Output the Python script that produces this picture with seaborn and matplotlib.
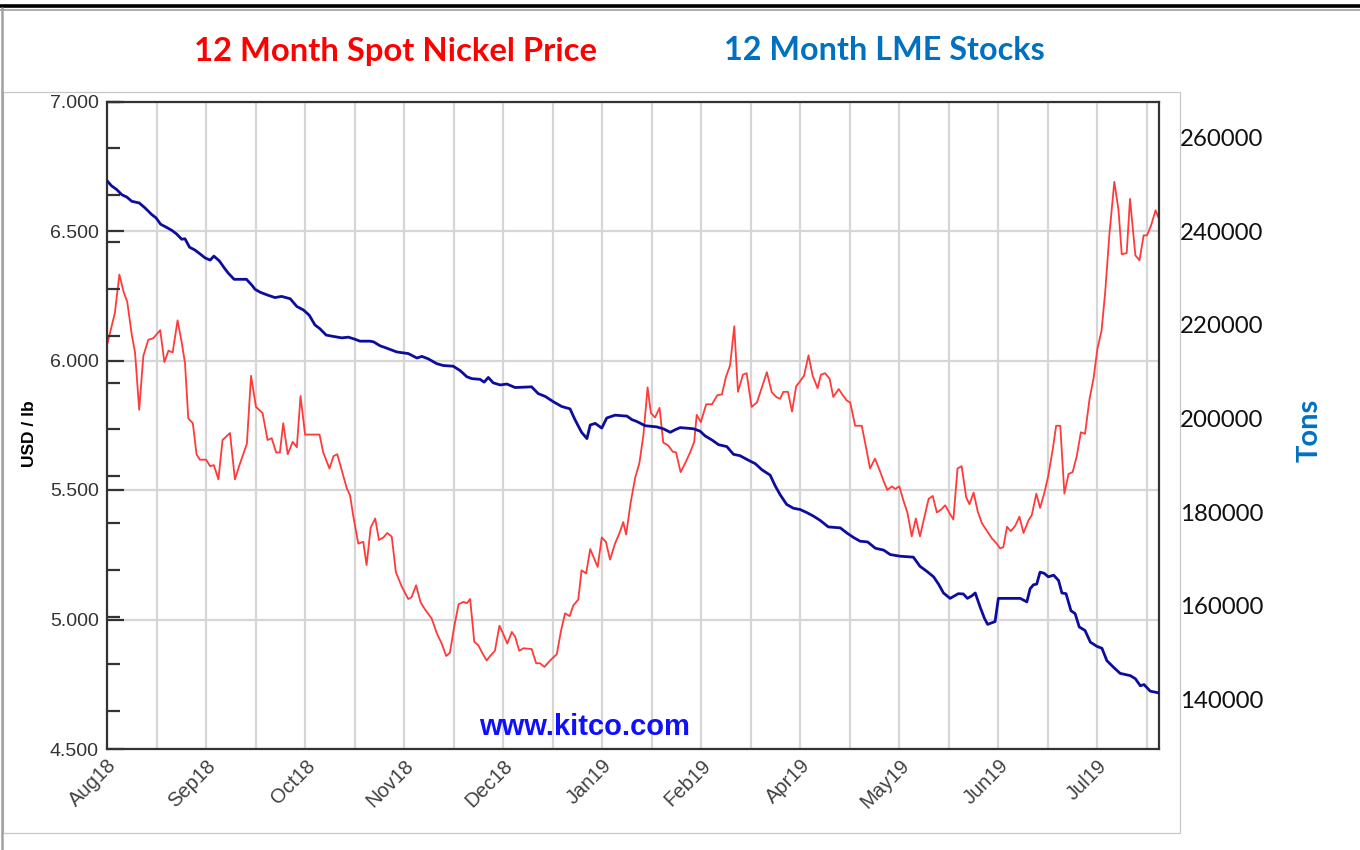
import numpy as np
import pandas as pd
import matplotlib
matplotlib.use("Agg")
import matplotlib.pyplot as plt
import matplotlib.transforms as mtransforms
from matplotlib.lines import Line2D
from matplotlib.patches import Rectangle
from matplotlib.ticker import MultipleLocator, FixedLocator, FuncFormatter
import seaborn as sns

# ---------------- data (trading-day index) ----------------
price_day = [0.1, 1.9, 3.0, 4.0, 4.9, 6.0, 6.8, 7.8, 8.8, 10.0, 11.2, 12.9, 13.9, 14.9, 15.9,
             17.1, 18.1, 18.9, 19.7, 20.8, 21.7, 22.5, 24.0, 25.0, 25.9, 27.0, 28.0, 29.8,
             31.0, 32.1, 33.9, 34.9, 36.1, 37.7, 38.9, 39.9, 41.0, 41.9, 42.7, 43.8, 45.0,
             46.0, 46.9, 48.0, 50.0, 51.5, 52.4, 53.9, 54.9, 55.8, 56.9, 58.1, 58.9, 59.7,
             60.9, 62.1, 62.9, 63.9, 65.0, 65.9, 67.0, 67.9, 69.0, 70.0, 71.4, 73.0, 73.8,
             74.9, 76.0, 77.1, 78.7, 79.9, 81.1, 82.2, 83.1, 84.1, 85.2, 86.4, 87.2, 88.0,
             89.0, 90.0, 91.1, 92.0, 93.0, 94.0, 95.1, 96.1, 97.0, 98.1, 98.9, 99.9, 100.9,
             102.9, 104.0, 104.9, 106.0, 107.4, 109.0, 110.0, 111.0, 112.1, 113.0, 114.2,
             115.0, 116.1, 117.1, 118.0, 118.9, 119.9, 120.9, 121.9, 123.1, 124.2, 125.1,
             125.8, 126.9, 128.0, 129.0, 130.0, 131.0, 131.8, 132.8, 133.9, 134.8, 136.0,
             137.1, 137.9, 139.0, 140.1, 141.3, 142.3, 142.9, 143.9, 145.2, 146.6, 147.9,
             149.0, 150.0, 151.0, 152.0, 152.9, 154.1, 155.0, 156.2, 157.5, 158.7, 159.9,
             161.1, 162.2, 163.1, 163.9, 165.0, 166.0, 167.0, 168.0, 168.9, 170.0, 171.0,
             172.2, 173.0, 174.0, 175.1, 176.0, 177.3, 178.3, 179.3, 180.1, 181.3, 182.9,
             184.0, 184.9, 186.1, 187.4, 188.2, 189.1, 190.2, 191.0, 192.0, 193.0, 194.0,
             195.0, 196.0, 197.0, 198.1, 199.1, 200.1, 201.1, 202.1, 203.1, 204.2, 205.1,
             206.1, 207.1, 208.2, 209.0, 210.0, 211.0, 212.0, 213.0, 214.4, 215.6, 216.4,
             217.2, 218.1, 219.0, 220.1, 221.1, 222.1, 223.3, 224.1, 225.2, 226.1, 227.1,
             228.1, 229.2, 230.0, 231.0, 232.0, 233.0, 234.0, 235.0, 236.0, 237.0, 238.1,
             239.1, 240.0, 241.0, 241.9, 242.9, 244.1, 245.1, 245.9, 247.1, 247.9, 249.2,
             250.2, 251.2, 252.0, 253.0, 254.1, 254.9]
price_usd = [6.065, 6.183, 6.332, 6.266, 6.227, 6.100, 6.030, 5.810, 6.017, 6.080, 6.086, 6.117,
             5.994, 6.038, 6.031, 6.155, 6.070, 5.990, 5.776, 5.758, 5.638, 5.617, 5.617, 5.592,
             5.596, 5.541, 5.693, 5.720, 5.541, 5.596, 5.679, 5.941, 5.821, 5.797, 5.693, 5.700,
             5.645, 5.645, 5.758, 5.638, 5.686, 5.665, 5.863, 5.714, 5.714, 5.714, 5.645, 5.583,
             5.631, 5.638, 5.576, 5.507, 5.479, 5.397, 5.293, 5.300, 5.210, 5.355, 5.390, 5.307,
             5.317, 5.334, 5.320, 5.183, 5.128, 5.079, 5.086, 5.132, 5.066, 5.038, 5.003, 4.948,
             4.907, 4.859, 4.872, 4.969, 5.059, 5.068, 5.063, 5.079, 4.914, 4.900, 4.866, 4.842,
             4.862, 4.879, 4.976, 4.941, 4.907, 4.952, 4.934, 4.879, 4.889, 4.886, 4.831, 4.831,
             4.817, 4.842, 4.866, 4.955, 5.024, 5.013, 5.054, 5.077, 5.190, 5.178, 5.272, 5.238,
             5.203, 5.317, 5.300, 5.231, 5.293, 5.334, 5.376, 5.328, 5.452, 5.548, 5.603, 5.714,
             5.896, 5.797, 5.780, 5.817, 5.683, 5.672, 5.648, 5.645, 5.569, 5.603, 5.645, 5.686,
             5.790, 5.762, 5.831, 5.831, 5.866, 5.869, 5.937, 5.982, 6.132, 5.879, 5.945, 5.951,
             5.821, 5.838, 5.896, 5.955, 5.877, 5.859, 5.852, 5.879, 5.879, 5.803, 5.900, 5.921,
             5.941, 6.020, 5.941, 5.893, 5.945, 5.951, 5.930, 5.859, 5.890, 5.866, 5.845, 5.838,
             5.748, 5.748, 5.659, 5.583, 5.621, 5.569, 5.534, 5.500, 5.514, 5.504, 5.514, 5.459,
             5.410, 5.321, 5.390, 5.321, 5.397, 5.466, 5.477, 5.413, 5.424, 5.441, 5.410, 5.386,
             5.583, 5.592, 5.472, 5.445, 5.490, 5.417, 5.372, 5.348, 5.314, 5.293, 5.275, 5.279,
             5.358, 5.341, 5.362, 5.397, 5.334, 5.383, 5.403, 5.486, 5.431, 5.486, 5.555, 5.659,
             5.748, 5.748, 5.486, 5.562, 5.569, 5.631, 5.723, 5.717, 5.852, 5.934, 6.045, 6.114,
             6.266, 6.486, 6.690, 6.583, 6.410, 6.415, 6.624, 6.406, 6.387, 6.483, 6.483, 6.521,
             6.580, 6.548]

stock_day = [0.0, 1.1, 2.3, 3.6, 4.8, 6.0, 7.8, 9.2, 10.8, 11.9, 13.0, 14.5, 15.7, 16.9, 18.1,
             18.9, 20.0, 21.3, 22.5, 23.8, 25.0, 25.9, 27.2, 28.4, 29.4, 30.8, 33.8, 35.1,
             35.9, 37.1, 38.7, 40.7, 42.3, 44.4, 46.0, 47.6, 49.0, 50.4, 51.6, 53.1, 54.9,
             56.9, 58.5, 60.1, 61.3, 63.7, 64.6, 66.2, 67.8, 70.2, 73.0, 75.1, 76.3, 77.9,
             79.9, 81.5, 83.9, 85.6, 87.2, 88.4, 90.4, 91.4, 92.4, 93.6, 95.3, 96.9, 98.9,
             102.9, 104.5, 106.2, 108.2, 110.2, 112.2, 113.4, 115.0, 116.3, 117.1, 118.3,
             119.9, 121.1, 123.1, 126.0, 127.2, 128.4, 130.4, 133.2, 134.8, 136.5, 137.7,
             138.9, 142.1, 143.7, 144.9, 146.6, 148.2, 150.2, 151.8, 153.4, 155.4, 157.1,
             158.7, 160.7, 161.9, 163.1, 164.7, 166.3, 168.0, 169.6, 171.2, 172.8, 174.8,
             177.7, 179.3, 180.9, 182.5, 184.3, 186.2, 188.2, 189.8, 192.2, 195.4, 197.0,
             198.7, 200.3, 201.5, 202.7, 204.3, 206.3, 207.5, 208.5, 209.6, 210.4, 211.6,
             212.6, 213.4, 215.2, 216.0, 221.3, 222.9, 223.7, 224.5, 225.3, 226.1, 227.1,
             228.1, 229.4, 230.6, 231.4, 232.4, 233.6, 234.6, 235.6, 237.0, 238.3, 239.9,
             241.1, 242.3, 243.9, 245.5, 248.0, 249.2, 250.4, 251.3, 252.8, 255.0]
stock_tons = [253100, 252000, 251250, 250100, 249600, 248700, 248350, 247300, 245900, 245150,
              243800, 243100, 242500, 241700, 240600, 240700, 238900, 238300, 237500, 236600,
              236150, 237000, 236000, 234500, 233350, 232050, 232050, 230800, 229900, 229300,
              228750, 228150, 228400, 227900, 226250, 225500, 224400, 222300, 221500, 220150,
              219850, 219550, 219700, 219250, 218850, 218850, 218700, 217850, 217350, 216550,
              216200, 215250, 215600, 215050, 214050, 213650, 213500, 212550, 211250, 210850,
              210700, 210100, 211100, 209950, 209500, 209700, 208950, 209100, 207650, 207050,
              205900, 204900, 204400, 202100, 199400, 198050, 200950, 201300, 200300, 202450,
              203050, 202850, 202100, 201700, 200800, 200550, 200150, 199400, 199950, 200400,
              200150, 199650, 198650, 197750, 196750, 196350, 194700, 194400, 193450, 192700,
              191400, 190250, 188000, 186100, 184000, 183200, 182900, 182250, 181500, 180600,
              179200, 179000, 177900, 176950, 176150, 176000, 174650, 174250, 173300, 172950,
              172750, 170800, 169700, 168550, 167000, 165100, 163950, 164950, 164900, 163950,
              164500, 165100, 162050, 159750, 158400, 159000, 163950, 163950, 163200, 166000,
              166850, 167000, 169550, 169300, 168550, 168900, 167750, 165100, 164950, 161300,
              160700, 157850, 157100, 154600, 153700, 153300, 150650, 149250, 147950, 147450,
              146800, 145300, 145550, 144150, 143750]

month_labels = ["Aug18", "Sep18", "Oct18", "Nov18", "Dec18", "Jan19",
                "Feb19", "Apr19", "May19", "Jun19", "Jul19"]
price_ticks = [4.5, 5.0, 5.5, 6.0, 6.5, 7.0]
stock_ticks = [140000, 160000, 180000, 200000, 220000, 240000, 260000]

title_left = "12 Month Spot Nickel Price"
title_right = "12 Month LME Stocks"
left_label = "USD / lb"
right_label = "Tons"
watermark = "www.kitco.com"

# ---------------- styling ----------------
sns.set_theme(style="white")
plt.rcParams["font.family"] = ["Liberation Sans", "DejaVu Sans"]

W, H = 1360, 850
fig = plt.figure(figsize=(W / 100, H / 100), dpi=100)
fig.patch.set_facecolor("white")

def fx(px):
    return px / W

def fy(py):
    return 1 - py / H

# outer decorations
fig.add_artist(Line2D([0, 1], [fy(6), fy(6)], color="black", lw=2.6, transform=fig.transFigure))
fig.add_artist(Line2D([0, 1], [fy(9.5), fy(9.5)], color="#a0a0a0", lw=1.2, transform=fig.transFigure))
fig.add_artist(Line2D([fx(1.5), fx(1.5)], [fy(8), 0], color="#a0a0a0", lw=1.8, transform=fig.transFigure))
fig.add_artist(Rectangle((fx(3), fy(833)), fx(1180) - fx(3), fy(92) - fy(833), fill=False,
                         edgecolor="#c8c8c8", lw=0.9, transform=fig.transFigure))

L, R, T, B = 107, 1159.3, 101.5, 749
ax = fig.add_axes([fx(L), fy(B), fx(R) - fx(L), fy(T) - fy(B)])
ax2 = ax.twinx()

price_df = pd.DataFrame({"day": price_day, "usd": price_usd})
stock_df = pd.DataFrame({"day": stock_day, "tons": stock_tons})

sns.lineplot(data=price_df, x="day", y="usd", ax=ax, color="#ff3a3a", lw=1.3,
             estimator=None, sort=False)
sns.lineplot(data=stock_df, x="day", y="tons", ax=ax2, color="#0c0c9e", lw=2.0,
             estimator=None, sort=False)

ax.set_xlim(0, 255)
ax.set_ylim(4.5, 7.0)
ax2.set_ylim(131800, 270000)

# x axis: gridlines every 12 trading days, labels every other one
grid_pos = list(range(0, 253, 12))
ax.xaxis.set_major_locator(FixedLocator(grid_pos))
xlabels = []
for i, _ in enumerate(grid_pos):
    xlabels.append(month_labels[i // 2] if i % 2 == 0 and i // 2 < len(month_labels) else "")
ax.set_xticklabels(xlabels, rotation=45, ha="right", va="top", rotation_mode="anchor",
                   fontsize=14.5, color="#404040")
ax.tick_params(axis="x", length=0, pad=5)

ax.yaxis.set_major_locator(FixedLocator(price_ticks))
ax.yaxis.set_major_formatter(FuncFormatter(lambda v, p: f"{v:.3f}"))
ax.tick_params(axis="y", which="major", direction="in", length=12, width=1.6, color="#333333",
               labelsize=14, labelcolor="#333333", pad=6, left=True)
ax.grid(True, color="#d6d6d6", lw=1.6)
ax.set_axisbelow(True)
ax.set_xlabel("")
ax.set_ylabel("")
for s in ax.spines.values():
    s.set_visible(True)
    s.set_color("#333333")
    s.set_linewidth(1.6)

ax2.yaxis.set_major_locator(FixedLocator(stock_ticks))
ax2.yaxis.set_minor_locator(MultipleLocator(10000))
ax2.yaxis.set_major_formatter(FuncFormatter(lambda v, p: f"{int(v)}"))
ax2.tick_params(axis="y", which="both", direction="in", left=True, right=False,
                labelleft=False, labelright=True, length=9, width=1.6, color="#333333")
ax2.tick_params(axis="y", which="major", labelsize=17.3, labelcolor="#111111", pad=15)
for lbl in ax2.get_yticklabels():
    lbl.set_fontfamily(["Lato", "DejaVu Sans"])
offset = mtransforms.ScaledTranslation(0, 11 / 100, fig.dpi_scale_trans)
for lbl in ax2.yaxis.get_majorticklabels():
    lbl.set_transform(lbl.get_transform() + offset)
ax2.set_ylabel("")
ax2.grid(False)
for s in ax2.spines.values():
    s.set_visible(False)

# texts
fig.text(fx(395), fy(52), title_left, color="#ff0000", fontsize=23.6, fontweight="bold",
         ha="center", va="center", family=["Lato", "DejaVu Sans"])
fig.text(fx(884), fy(51), title_right, color="#0070c0", fontsize=23.3, fontweight="bold",
         ha="center", va="center", family=["Lato", "DejaVu Sans"])
fig.text(fx(1310), fy(430), right_label, color="#0070c0", fontsize=21, fontweight="bold",
         rotation=90, ha="center", va="center", family=["Lato", "DejaVu Sans"])
fig.text(fx(30), fy(434), left_label, color="black", fontsize=12.5, fontweight="bold",
         rotation=90, ha="center", va="center")
fig.text(fx(585), fy(727), watermark, color="#1010ff", fontsize=21, fontweight="bold",
         ha="center", va="center")

fig.savefig("out.png", dpi=100, facecolor="white")
